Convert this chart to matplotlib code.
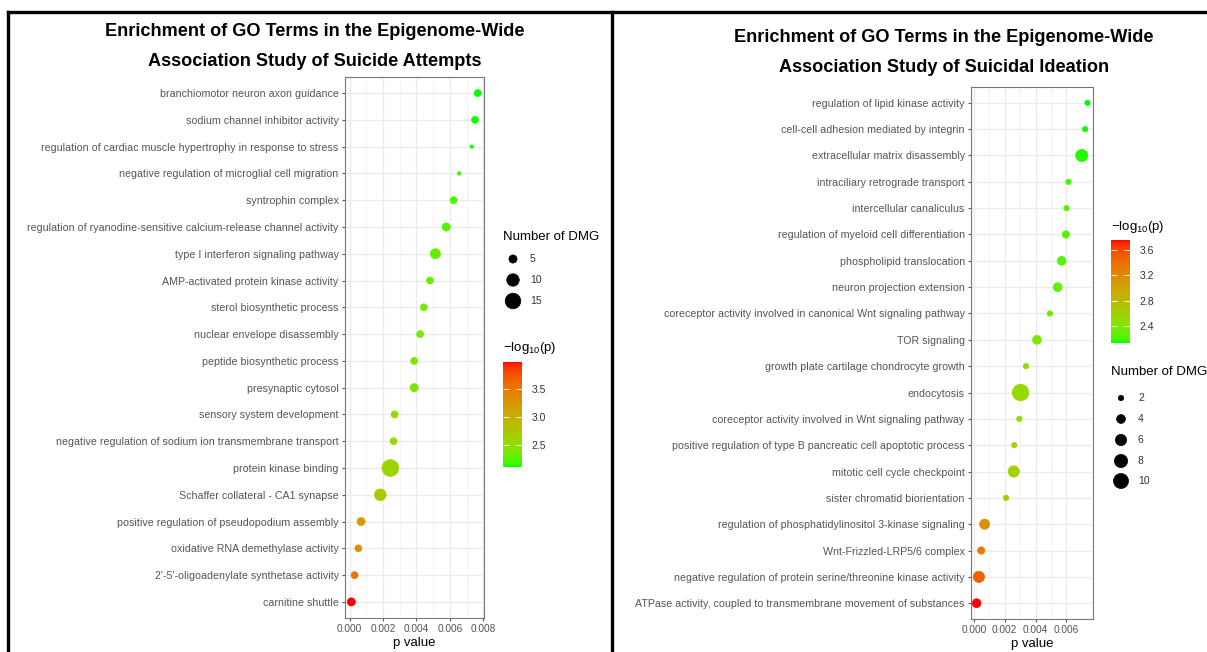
import numpy as np
import matplotlib
matplotlib.use("Agg")
import matplotlib.pyplot as plt
from matplotlib.colors import ListedColormap, Normalize
from matplotlib.cm import ScalarMappable
from matplotlib.lines import Line2D

plt.rcParams['font.family'] = ['Liberation Sans', 'DejaVu Sans']
plt.rcParams['mathtext.fontset'] = 'custom'
plt.rcParams['mathtext.rm'] = 'Liberation Sans'

# ---- data: suicide attempts (top to bottom) ----
sa_terms = [
    "branchiomotor neuron axon guidance",
    "sodium channel inhibitor activity",
    "regulation of cardiac muscle hypertrophy in response to stress",
    "negative regulation of microglial cell migration",
    "syntrophin complex",
    "regulation of ryanodine-sensitive calcium-release channel activity",
    "type I interferon signaling pathway",
    "AMP-activated protein kinase activity",
    "sterol biosynthetic process",
    "nuclear envelope disassembly",
    "peptide biosynthetic process",
    "presynaptic cytosol",
    "sensory system development",
    "negative regulation of sodium ion transmembrane transport",
    "protein kinase binding",
    "Schaffer collateral - CA1 synapse",
    "positive regulation of pseudopodium assembly",
    "oxidative RNA demethylase activity",
    "2'-5'-oligoadenylate synthetase activity",
    "carnitine shuttle",
]
sa_p = [0.00766, 0.0075, 0.0073, 0.00655, 0.00622, 0.00578, 0.00513, 0.00481,
        0.00444, 0.00422, 0.00386, 0.00386, 0.00269, 0.00263, 0.00244, 0.00184,
        0.00069, 0.00053, 0.00030, 0.000107]
sa_n = [4, 4, 2, 2, 4, 5, 7, 4, 4, 4, 4, 5, 4, 4, 17, 9, 5, 4, 4, 5]

# ---- data: suicidal ideation (top to bottom) ----
si_terms = [
    "regulation of lipid kinase activity",
    "cell-cell adhesion mediated by integrin",
    "extracellular matrix disassembly",
    "intraciliary retrograde transport",
    "intercellular canaliculus",
    "regulation of myeloid cell differentiation",
    "phospholipid translocation",
    "neuron projection extension",
    "coreceptor activity involved in canonical Wnt signaling pathway",
    "TOR signaling",
    "growth plate cartilage chondrocyte growth",
    "endocytosis",
    "coreceptor activity involved in Wnt signaling pathway",
    "positive regulation of type B pancreatic cell apoptotic process",
    "mitotic cell cycle checkpoint",
    "sister chromatid biorientation",
    "regulation of phosphatidylinositol 3-kinase signaling",
    "Wnt-Frizzled-LRP5/6 complex",
    "negative regulation of protein serine/threonine kinase activity",
    "ATPase activity, coupled to transmembrane movement of substances",
]
si_p = [0.00736, 0.00721, 0.00699, 0.00613, 0.0060, 0.00596, 0.00569, 0.00543,
        0.00492, 0.00409, 0.00338, 0.00303, 0.00295, 0.00262, 0.00259, 0.00209,
        0.00070, 0.00048, 0.00033, 0.000178]
si_n = [2, 2, 7, 2, 2, 3, 4, 4, 2, 4, 2, 12, 2, 2, 6, 2, 5, 3, 6, 4]

sa_legend = [5, 10, 15]
si_legend = [2, 4, 6, 8, 10]
sa_cticks = [2.5, 3.0, 3.5]
si_cticks = [2.4, 2.8, 3.2, 3.6]

W, H = 1207, 652
M = np.array([[0.4124, 0.3576, 0.1805], [0.2126, 0.7152, 0.0722], [0.0193, 0.1192, 0.9505]])
WHITE = np.array([0.95047, 1.0, 1.08883])


def to_lab(rgb):
    rgb = np.asarray(rgb, float)
    lin = np.where(rgb <= 0.04045, rgb / 12.92, ((rgb + 0.055) / 1.055) ** 2.4)
    xyz = M @ lin / WHITE
    f = np.where(xyz > 0.008856, np.cbrt(xyz), 7.787 * xyz + 16 / 116)
    return np.array([116 * f[1] - 16, 500 * (f[0] - f[1]), 200 * (f[1] - f[2])])


def from_lab(lab):
    L, a, b = lab.T
    fy = (L + 16) / 116
    f = np.stack([fy + a / 500, fy, fy - b / 200])
    xyz = np.where(f ** 3 > 0.008856, f ** 3, (f - 16 / 116) / 7.787) * WHITE[:, None]
    lin = np.clip(np.linalg.inv(M) @ xyz, 0, 1)
    return np.where(lin <= 0.0031308, 12.92 * lin, 1.055 * lin ** (1 / 2.4) - 0.055).T


# green -> red gradient interpolated in Lab, like ggplot
t = np.linspace(0, 1, 256)[:, None]
lo, hi = to_lab([0, 1, 0]), to_lab([1, 0, 0])
cmap = ListedColormap(np.clip(from_lab(lo + t * (hi - lo)), 0, 1))


def px(x0, y0, x1, y1):
    return [x0 / W, 1 - y1 / H, (x1 - x0) / W, (y1 - y0) / H]


def size_sa(n):
    return 0.5184 * (-23 + 17.8 * np.asarray(n, float))


def size_si(n):
    return 0.5184 * (-20 + 24.5 * np.asarray(n, float))


fig = plt.figure(figsize=(W / 100, H / 100), dpi=100)


def panel(rect, terms, pv, cnt, sizef, xticks):
    ax = fig.add_axes(rect)
    pv = np.asarray(pv)
    lp = -np.log10(pv)
    norm = Normalize(lp.min(), lp.max())
    y = np.arange(len(terms))
    ax.set_axisbelow(True)
    ax.scatter(pv, y, s=sizef(cnt), c=lp, cmap=cmap, norm=norm,
               linewidths=0.5, edgecolors="face", zorder=3)
    ax.set_yticks(y)
    ax.set_yticklabels(terms)
    ax.set_ylim(len(terms) - 0.4, -0.6)
    ax.set_xticks(xticks)
    ax.set_xticklabels(["%.3f" % v for v in xticks])
    ax.set_xticks(np.array(xticks[:-1]) + 0.001, minor=True)
    ax.margins(x=0.05)
    ax.grid(True, which="major", color="#EBEBEB", lw=1.0)
    ax.grid(True, which="minor", axis="x", color="#F2F2F2", lw=0.6)
    ax.tick_params(which="major", labelsize=7.3, colors="#555555", length=2.5, width=0.8, pad=2)
    ax.tick_params(axis="y", labelsize=7.7)
    ax.tick_params(which="minor", length=0)
    for s in ax.spines.values():
        s.set_color("#777777")
        s.set_linewidth(0.8)
    ax.set_xlabel("p value", fontsize=9.5, labelpad=2)
    return norm


n1 = panel(px(345, 77, 484, 618), sa_terms, sa_p, sa_n, size_sa,
           [0.0, 0.002, 0.004, 0.006, 0.008])
n2 = panel(px(971, 87, 1093, 619), si_terms, si_p, si_n, size_si,
           [0.0, 0.002, 0.004, 0.006])

# overlay for titles, frame lines and legends
ov = fig.add_axes([0, 0, 1, 1])
ov.set_xlim(0, W)
ov.set_ylim(H, 0)
ov.axis("off")
ov.patch.set_alpha(0)

for x, y, s in [(315, 32, "Enrichment of GO Terms in the Epigenome-Wide"),
                (315, 62, "Association Study of Suicide Attempts"),
                (944, 37, "Enrichment of GO Terms in the Epigenome-Wide"),
                (944, 68, "Association Study of Suicidal Ideation")]:
    ov.text(x, y, s, ha="center", va="center", fontsize=13.1, fontweight="bold")

ov.add_line(Line2D([8, W], [12, 12], color="black", lw=2.4))
ov.add_line(Line2D([8, 8], [12, H], color="black", lw=2.4))
ov.add_line(Line2D([612, 612], [12, H], color="black", lw=2.4))

cb_title = r"$-\mathrm{log}_{10}(\mathrm{p})$"


def size_legend(x, ytitle, ys, vals, sizef):
    ov.text(x - 10, ytitle, "Number of DMG", fontsize=9.5, va="center", ha="left")
    ov.scatter([x] * len(vals), ys, s=sizef(vals), color="black",
               linewidths=0.5, edgecolors="black")
    for yy, v in zip(ys, vals):
        ov.text(x + 17, yy, str(v), fontsize=7.5, va="center", ha="left", color="#333333")


def color_legend(rect, xtitle, ytitle, norm, ticks):
    ov.text(xtitle, ytitle, cb_title, fontsize=9.5, va="center", ha="left")
    cax = fig.add_axes(rect)
    cb = fig.colorbar(ScalarMappable(norm=norm, cmap=cmap), cax=cax, ticks=ticks)
    cb.outline.set_visible(False)
    cax.yaxis.set_ticks_position("both")
    cax.tick_params(direction="in", colors="white", length=4, width=0.6,
                    labelsize=7.5, labelcolor="#333333", pad=7, labelleft=False, labelright=True)


size_legend(513, 237, [259, 280, 301], sa_legend, size_sa)
color_legend(px(503, 362, 522, 467), 503, 348, n1, sa_cticks)
color_legend(px(1111, 240, 1130, 343), 1111, 227, n2, si_cticks)
size_legend(1121, 372, [398, 419, 440, 461, 481], si_legend, size_si)

fig.savefig("out.png", dpi=100)
